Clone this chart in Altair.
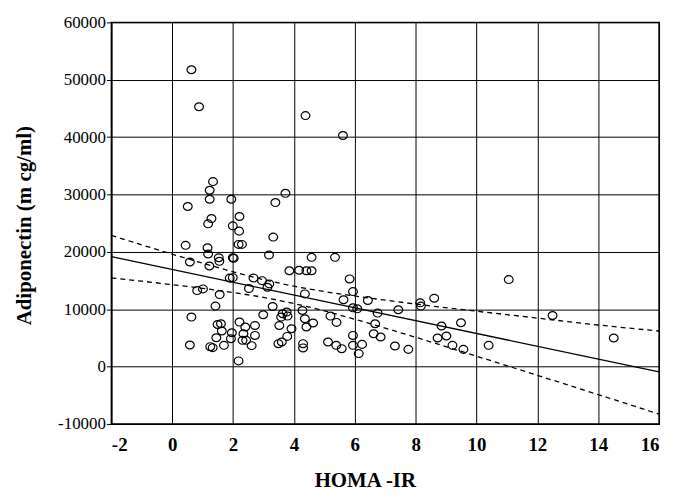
import altair as alt
import pandas as pd

# Scatter data: HOMA-IR (x) and Adiponectin (y)
homa = [0.63, 0.88, 4.38, 5.61,
        1.34, 1.23, 1.23, 1.94, 0.51, 2.21, 1.29, 1.18, 1.99, 2.20, 0.44, 2.18, 2.29, 1.16, 1.18, 1.53, 1.99,
        0.58, 1.55, 1.22, 2.02, 1.89, 1.99, 0.82, 1.01, 1.56, 2.52, 1.42, 0.63, 1.49, 1.60, 2.21, 2.40, 2.72,
        1.63, 1.45, 1.96, 1.93, 1.70, 1.25, 1.33, 0.58, 2.34, 2.31, 2.43, 2.61, 2.18,
        3.72, 3.39, 3.32, 3.18, 4.58, 5.35,
        3.85, 4.17, 4.41, 4.58, 2.95, 3.19, 3.13, 2.67, 4.36, 5.63, 3.30, 2.99, 3.63, 3.76, 3.58, 3.79,
        4.28, 4.36, 4.41, 4.63, 5.20, 5.40, 2.72, 3.52, 3.92, 3.78, 3.60, 3.49, 4.30, 4.30, 5.12, 5.39, 5.57,
        5.83, 5.94, 5.94, 6.08, 6.43, 6.75, 7.43, 8.15, 8.17, 8.61, 8.85, 9.49, 6.67, 6.62, 6.85, 5.94,
        5.94, 6.24, 6.13, 7.32, 7.76, 8.72, 9.01, 9.21, 9.57, 10.40,
        11.06, 12.50, 14.51]
adipo = [51750, 45300, 43750, 40280,
         32240, 30730, 29160, 29160, 27900, 26160, 25800, 24880, 24530, 23610, 21130, 21300, 21300, 20710, 19620, 18980, 18980,
         18230, 18350, 17530, 18870, 15420, 15500, 13250, 13540, 12550, 13600, 10540, 8630, 7340, 7460, 7760, 6890, 7170,
         6200, 5030, 5900, 4860, 3700, 3470, 3300, 3770, 5730, 4570, 4570, 3650, 990,
         30200, 28590, 22570, 19440, 19040, 19040,
         16700, 16800, 16700, 16700, 14980, 14410, 13830, 15450, 12670, 11650, 10470, 9030, 9200, 9500, 8630, 8800,
         9770, 8330, 6890, 7590, 8800, 7700, 5430, 7170, 6600, 5260, 4290, 3990, 3990, 3250, 4290, 3700, 3120,
         15280, 13070, 10240, 10070, 11510, 9320, 9900, 11110, 10540, 11920, 7070, 7640, 7460, 5730, 5160, 5430,
         3700, 3870, 2260, 3590, 3000, 4980, 5330, 3700, 3000, 3700,
         15160, 8910, 4980]

# Regression line
fit_x = [-2, 16]
fit_y = [19160, -920]

# Confidence band (dashed)
band_x = [-2, -1, 0, 1, 2, 3, 4, 5, 6, 8, 10, 12, 14, 16]
band_upper = [22860, 21215, 19600, 18024, 16527, 15166, 14010, 13076, 12307, 10900, 9650, 8450, 7250, 6200]
band_lower = [15460, 14885, 14280, 13636, 12913, 12054, 10990, 9704, 8253, 5102, 1815, -1524, -4888, -8300]

x_ticks = [-2, 0, 2, 4, 6, 8, 10, 12, 14, 16]
y_ticks = [-10000, 0, 10000, 20000, 30000, 40000, 50000, 60000]

pts = pd.DataFrame({"x": homa, "y": adipo})
fit = pd.DataFrame({"x": fit_x, "y": fit_y})
up = pd.DataFrame({"x": band_x, "y": band_upper})
lo = pd.DataFrame({"x": band_x, "y": band_lower})

FONT = "Liberation Serif"
HYPHEN_LABEL = "datum.value < 0 ? '-' + format(abs(datum.value), 'd') : format(datum.value, 'd')"

xscale = alt.Scale(domain=[-2, 16], nice=False, zero=False)
yscale = alt.Scale(domain=[-10000, 60000], nice=False, zero=False)

xaxis = alt.Axis(values=x_ticks, labelExpr=HYPHEN_LABEL,
                 labelFont=FONT, labelFontSize=19, labelFontWeight="bold", labelColor="black",
                 labelPadding=12, tickSize=0, domainColor="black",
                 grid=True, gridColor="black", gridWidth=1, gridOpacity=1,
                 title="HOMA -IR", titleFont=FONT, titleFontSize=21, titleFontWeight="bold",
                 titleColor="black", titleX=255, titleY=57, titleBaseline="middle", titleAlign="center")
yaxis = alt.Axis(values=y_ticks, labelExpr=HYPHEN_LABEL,
                 labelFont=FONT, labelFontSize=17, labelColor="black",
                 labelPadding=1, tickSize=5, tickColor="black", domainColor="black",
                 grid=True, gridColor="black", gridWidth=1, gridOpacity=1,
                 title="Adiponectin (m cg/ml)", titleFont=FONT, titleFontSize=21, titleFontWeight="bold",
                 titleColor="black", titleX=-87, titleY=204, titleAngle=270,
                 titleBaseline="middle", titleAlign="center")

points = alt.Chart(pts).mark_point(
    filled=False, color="black", size=62, strokeWidth=1.2, opacity=1,
    shape="M-1.12,0A1.12,1,0,1,0,1.12,0A1.12,1,0,1,0,-1.12,0Z",
).encode(
    x=alt.X("x:Q", scale=xscale, axis=xaxis),
    y=alt.Y("y:Q", scale=yscale, axis=yaxis),
)
fit_line = alt.Chart(fit).mark_line(color="black", strokeWidth=1.3, clip=True).encode(
    x=alt.X("x:Q", scale=xscale), y=alt.Y("y:Q", scale=yscale))
up_line = alt.Chart(up).mark_line(color="black", strokeWidth=1.3, strokeDash=[5, 4], interpolate="monotone", clip=True).encode(
    x=alt.X("x:Q", scale=xscale), y=alt.Y("y:Q", scale=yscale))
lo_line = alt.Chart(lo).mark_line(color="black", strokeWidth=1.3, strokeDash=[5, 4], interpolate="monotone", clip=True).encode(
    x=alt.X("x:Q", scale=xscale), y=alt.Y("y:Q", scale=yscale))

chart = alt.layer(up_line, lo_line, fit_line, points).properties(
    width=551, height=404,
    autosize=alt.AutoSizeParams(type="none"),
    padding={"left": 104, "top": 13, "right": 10, "bottom": 66},
    background="white",
).configure_view(stroke="black", strokeWidth=1.5)

chart.save("out.html", embed_options={"renderer": "svg", "actions": False})
